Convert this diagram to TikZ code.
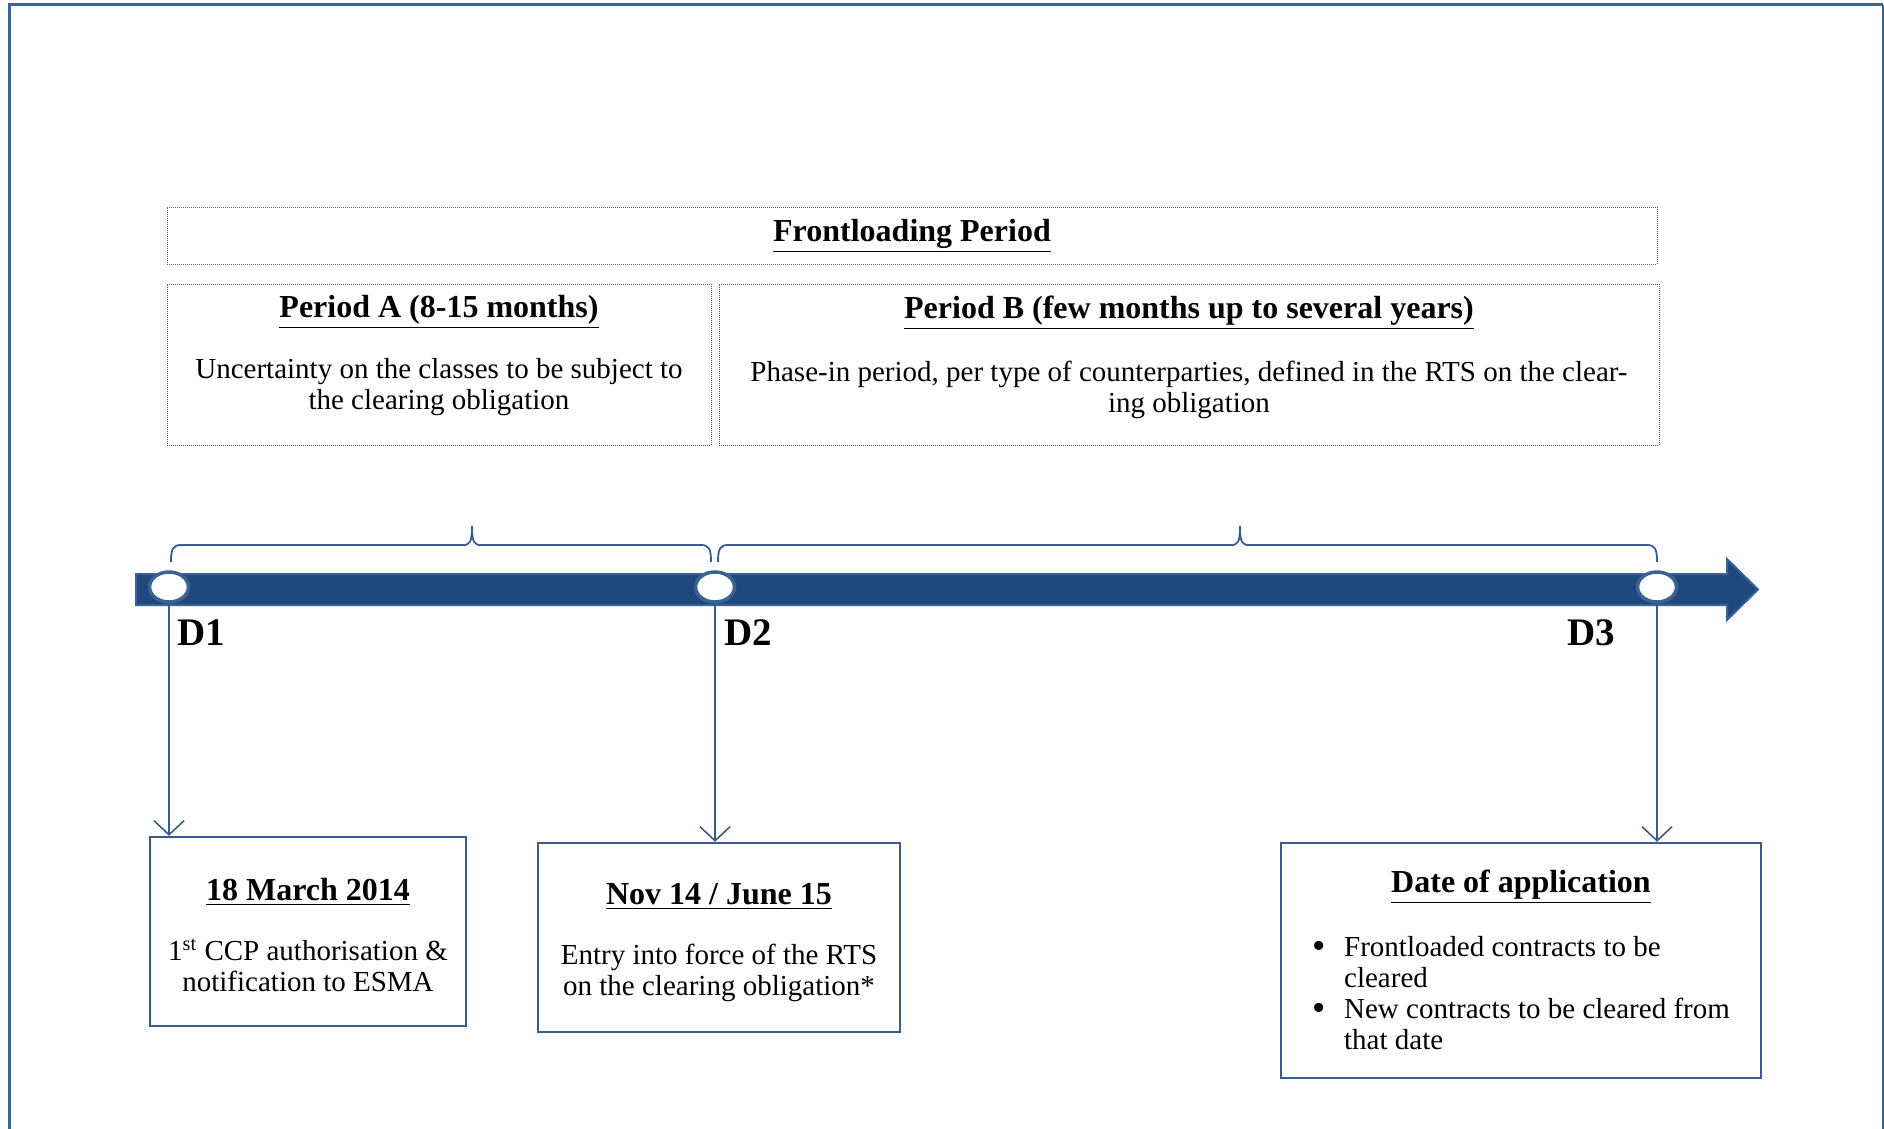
\documentclass[tikz,border=0pt]{standalone}
\usepackage{fontspec}
\setmainfont{Liberation Serif}
\usetikzlibrary{shapes,arrows.meta,positioning,calc}
\definecolor{barblue}{RGB}{31,73,125}
\definecolor{edgeblue}{RGB}{58,98,148}
\definecolor{boxblue}{RGB}{56,93,138}
\newcommand{\boxtitle}[1]{{\fontsize{16}{16}\selectfont\bfseries\underline{#1}}}
\newcommand{\bigbullet}{\raisebox{-1pt}{\fontsize{19}{15.5}\selectfont\textbullet}}

\begin{document}
\begin{tikzpicture}[x=0.5pt, y=-0.5pt,
    period/.style={draw=boxblue, line width=0.5pt, dash pattern=on 0.5pt off 0.5pt, rectangle, align=center, font=\fontsize{14.5}{15.5}\selectfont},
    event/.style={draw=boxblue, line width=1.2pt, rectangle, align=center, font=\fontsize{14.5}{15.5}\selectfont},
    milestone/.style={draw=edgeblue, fill=white, ellipse, line width=1.75pt, minimum width=19.5pt, minimum height=15pt, inner sep=0pt},
    dlabel/.style={font=\fontsize{19.5}{20}\selectfont\bfseries, anchor=west, inner sep=0pt},
    pointer/.style={-{Straight Barb[length=7pt, width=15pt]}, draw=boxblue, line width=0.8pt},
    brace/.style={draw=boxblue, line width=0.9pt}]
    \useasboundingbox (0,0) rectangle (1884,1129);
    \draw [draw=edgeblue, line width=1.5pt] (9,1129) -- (9,5) -- (1883,5);
    \draw [draw=edgeblue, line width=0.7pt] (1883,5) -- (1883,1129);

    \node (frontload) [period, minimum width=745pt, minimum height=28.5pt] at (912,235.5) {\boxtitle{Frontloading Period}};
    \node (perA) [period, minimum width=272pt, minimum height=80.5pt] at (439,364.5) {\boxtitle{Period A (8-15 months)}\\[15pt] Uncertainty on the classes to be subject to\\ the clearing obligation\rule[-12pt]{0pt}{1pt}};
    \node (perB) [period, minimum width=470pt, minimum height=80.5pt, right=3.5pt of perA] {\boxtitle{Period B (few months up to several years)}\\[15pt] Phase-in period, per type of counterparties, defined in the RTS on the clear-\\ing obligation\rule[-10pt]{0pt}{1pt}};

    \draw [brace] (171,562) .. controls (171,549) and (173,545) .. (181,545) -- (463,545) .. controls (470,545) and (472,542) .. (472,526) .. controls (472,542) and (474,545) .. (481,545) -- (701,545) .. controls (709,545) and (711,549) .. (711,562);
    \draw [brace] (718,562) .. controls (718,549) and (720,545) .. (728,545) -- (1231,545) .. controls (1238,545) and (1240,542) .. (1240,526) .. controls (1240,542) and (1242,545) .. (1249,545) -- (1647,545) .. controls (1655,545) and (1657,549) .. (1657,562);

    \draw [draw=edgeblue, fill=barblue, line width=1pt] (136,574) -- (1727,574) -- (1727,559) -- (1758,589.5) -- (1727,620) -- (1727,605) -- (136,605) -- cycle;
    \node (d1) [milestone] at (169,587) {};
    \node (d2) [milestone] at (715,587) {};
    \node (d3) [milestone] at (1657,587) {};
    \node (lblD1) [dlabel] at (177,633) {D1};
    \node (lblD2) [dlabel] at (724,633) {D2};
    \node (lblD3) [dlabel] at (1567,633) {D3};

    \node (mar14) [event, minimum width=158pt, minimum height=94.5pt] at (308,931.5) {\rule{0pt}{15pt}\boxtitle{18 March 2014}\\[14.5pt] 1\textsuperscript{st} CCP authorisation \&\\ notification to ESMA};
    \node (nov14) [event, minimum width=181pt, minimum height=94.5pt] at (719,937.5) {\rule{0pt}{16pt}\boxtitle{Nov 14 / June 15}\\[14.5pt] Entry into force of the RTS\\ on the clearing obligation*};
    \node (dateapp) [event, minimum width=240pt, minimum height=117.5pt] at (1521,960.5) {\rule{0pt}{15pt}\boxtitle{Date of application}\\[14.5pt] \begin{tabular}[t]{@{}p{16pt}@{}l@{}}\bigbullet & Frontloaded contracts to be\\ & cleared\\ \bigbullet & New contracts to be cleared from\\ & that date\end{tabular}};

    \draw [pointer] (d1) -- (d1 |- mar14.north);
    \draw [pointer] (d2) -- (d2 |- nov14.north);
    \draw [pointer] (d3) -- (d3 |- dateapp.north);

\end{tikzpicture}
\end{document}
